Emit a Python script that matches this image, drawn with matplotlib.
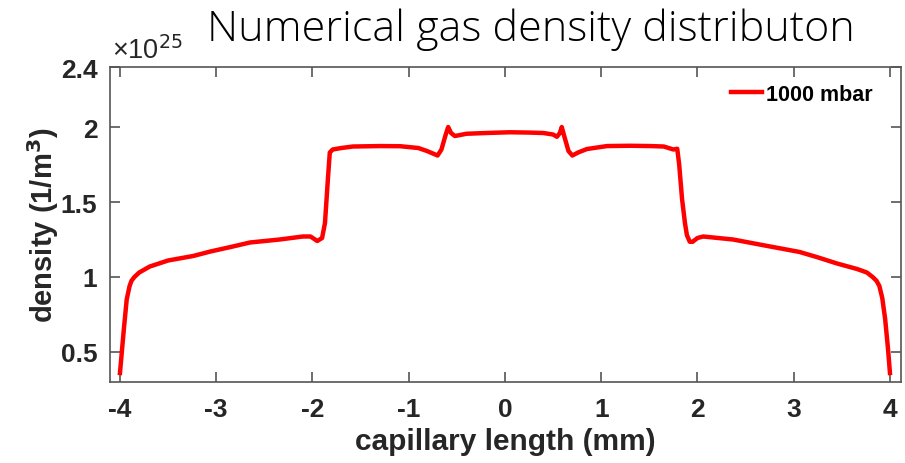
import matplotlib
matplotlib.use('Agg')
import matplotlib.pyplot as plt

# capillary position (mm) and gas density (x1e25 1/m^3)
pos_mm = [-4.00, -3.96, -3.93, -3.90, -3.88, -3.85, -3.80, -3.69, -3.50, -3.24, -3.06,
          -2.85, -2.65, -2.34, -2.10, -2.02, -1.95, -1.90, -1.87, -1.84, -1.82,
          -1.79, -1.70, -1.58, -1.30, -1.09, -0.90, -0.81, -0.70, -0.66, -0.62,
          -0.59, -0.56, -0.52, -0.40, -0.20, 0.05, 0.25, 0.40, 0.50, 0.54,
          0.57, 0.59, 0.62, 0.66, 0.70, 0.76, 0.85, 1.06, 1.30, 1.51,
          1.65, 1.75, 1.79, 1.81, 1.84, 1.87, 1.89, 1.92, 1.95, 2.00,
          2.06, 2.37, 2.70, 3.06, 3.24, 3.45, 3.66, 3.76, 3.82, 3.86,
          3.89, 3.92, 3.95, 3.98, 4.00]
density = [0.36, 0.65, 0.85, 0.94, 0.975, 1.00, 1.03, 1.07, 1.11, 1.14, 1.17,
           1.20, 1.23, 1.25, 1.27, 1.27, 1.24, 1.26, 1.36, 1.65, 1.83,
           1.85, 1.86, 1.87, 1.873, 1.872, 1.86, 1.84, 1.81, 1.85, 1.94,
           2.00, 1.96, 1.94, 1.955, 1.96, 1.965, 1.963, 1.96, 1.95, 1.935,
           1.96, 2.00, 1.93, 1.84, 1.81, 1.83, 1.853, 1.873, 1.875, 1.873,
           1.87, 1.85, 1.855, 1.75, 1.52, 1.36, 1.28, 1.235, 1.235, 1.26,
           1.27, 1.25, 1.21, 1.167, 1.133, 1.09, 1.053, 1.03, 1.00, 0.975,
           0.94, 0.86, 0.72, 0.52, 0.36]

x_ticks = [-4, -3, -2, -1, 0, 1, 2, 3, 4]
y_ticks = [0.5, 1, 1.5, 2, 2.4]
y_tick_labels = ['0.5', '1', '1.5', '2', '2.4']

plt.rcParams['font.family'] = ['Liberation Sans', 'DejaVu Sans']

fig = plt.figure(figsize=(9.05, 4.64), dpi=100)
ax = fig.add_axes([0.1215, 0.1746, 0.874, 0.6788])

ax.plot(pos_mm, density, color='#ff0000', lw=3.2, label='1000 mbar')

ax.set_xlim(-4.104, 4.114)
ax.set_ylim(0.3, 2.4)
ax.set_xticks(x_ticks)
ax.set_xticklabels([str(t) for t in x_ticks])
ax.set_yticks(y_ticks)
ax.set_yticklabels(y_tick_labels)
ax.tick_params(direction='in', length=7, width=1.2, color='#555555',
               top=True, right=True, labelsize=19, labelcolor='#262626')
ax.tick_params(axis='x', pad=11)
ax.tick_params(axis='y', pad=9)
for lab in ax.get_xticklabels() + ax.get_yticklabels():
    lab.set_fontweight('bold')
for s in ax.spines.values():
    s.set_color('#555555')
    s.set_linewidth(1.2)

ax.set_xlabel('capillary length (mm)', fontsize=21.5, fontweight='bold', color='#262626', labelpad=4)
ax.set_ylabel('density (1/m$^\\mathbf{3}$)', fontsize=21, fontweight='bold', color='#262626', labelpad=0)

ax.text(0.002, 1.01, '×10$^{25}$', transform=ax.transAxes, fontsize=19.5, color='#262626',
        ha='left', va='bottom')

leg = ax.legend(loc='upper right', frameon=False, fontsize=15.5, handlelength=1.4,
                handletextpad=0.2, bbox_to_anchor=(0.975, 0.975), borderaxespad=0)
for t in leg.get_texts():
    t.set_fontweight('bold')

fig.text(0.587, 0.935, 'Numerical gas density distributon', fontsize=31,
         family=['Open Sans', 'DejaVu Sans'], fontweight='light', ha='center', va='center')

fig.savefig('out.png', dpi=100)
